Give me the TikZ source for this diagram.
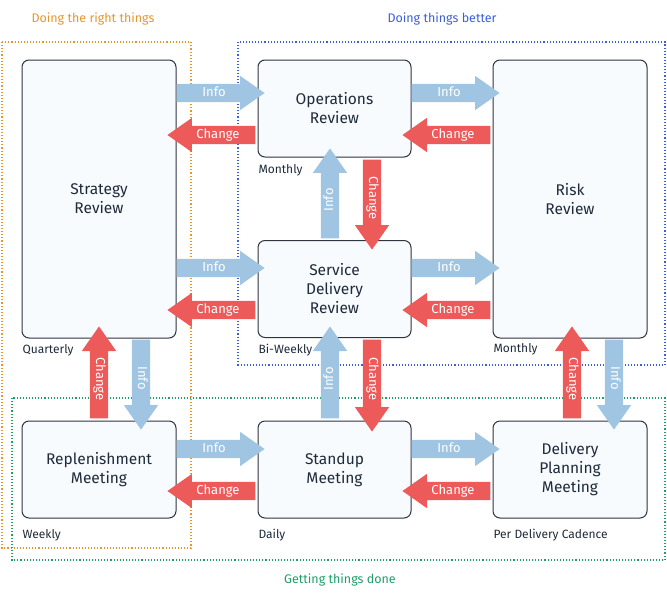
\documentclass[tikz,border=0pt]{standalone}
\usepackage{fontspec}
\setmainfont{Fira Sans}
\usetikzlibrary{shapes.arrows}
\definecolor{infoc}{HTML}{9FC5E2}
\definecolor{chc}{HTML}{EC5A5A}
\definecolor{boxb}{HTML}{2E3440}
\definecolor{boxf}{HTML}{F7FBFE}
\definecolor{orc}{HTML}{E8962A}
\definecolor{blc}{HTML}{3A5FD9}
\definecolor{grc}{HTML}{1E9E6A}
\definecolor{txt}{HTML}{1F2A3A}
\tikzset{
 box/.style={draw=boxb,line width=1pt,fill=boxf,rounded corners=7pt,align=center,font=\fontsize{15.5}{19}\selectfont,text=txt},
 sub/.style={anchor=west,font=\fontsize{12}{14}\selectfont,text=txt},
 region/.style={dotted,line width=1.1pt},
 fat/.style={single arrow,single arrow head extend=8pt,single arrow head indent=0pt,single arrow tip angle=70,inner sep=0pt,text height=12pt,text depth=6pt,inner xsep=2pt,minimum height=#1,text=white,font=\fontsize{13}{15}\selectfont},
 inf/.style={fat=#1,fill=infoc},
 chg/.style={fat=#1,fill=chc},
}
\begin{document}
\begin{tikzpicture}[x=1pt,y=-1pt]
\useasboundingbox (0,0) rectangle (667,600);
\draw[region,orc] (2,42) rectangle (191,548);
\draw[region,blc] (238,42) rectangle (665,365);
\draw[region,grc] (12,398) rectangle (665,560);
\node[text=orc,font=\fontsize{12.5}{14}\selectfont] (l1) at (93,19) {Doing the right things};
\node[text=blc,font=\fontsize{12.5}{14}\selectfont] (l2) at (442,19) {Doing things better};
\node[text=grc,font=\fontsize{12.5}{14}\selectfont] (l3) at (340,580) {Getting things done};

\node[box,minimum width=154,minimum height=278] (sr) at (99,199) {Strategy\\Review};
\node[box,minimum width=153,minimum height=97] (or) at (334.5,108.5) {Operations\\Review};
\node[box,minimum width=154,minimum height=278] (rr) at (570,199) {Risk\\Review};
\node[box,minimum width=153,minimum height=97] (sd) at (334.5,289) {Service\\Delivery\\Review};
\node[box,minimum width=154,minimum height=97] (rm) at (99,469.5) {Replenishment\\Meeting};
\node[box,minimum width=153,minimum height=97] (sm) at (334.5,469.5) {Standup\\Meeting};
\node[box,minimum width=154,minimum height=97] (dp) at (570,469.5) {Delivery\\Planning\\Meeting};

\node[sub] (q) at (19,350) {Quarterly};
\node[sub] (m1) at (255,170) {Monthly};
\node[sub] (m2) at (490,349) {Monthly};
\node[sub] (bw) at (255,350) {Bi-Weekly};
\node[sub] (wk) at (19,535) {Weekly};
\node[sub] (dy) at (255,535) {Daily};
\node[sub] (pd) at (490,535) {Per Delivery Cadence};

% horizontal
\foreach \y/\n in {93/a,268/b,449/c}{
 \node[inf=88pt] (hi1\n) at (214,\y) {Info};
 \node[inf=88pt] (hi2\n) at (449,\y) {Info};
}
\foreach \y/\n in {135/a,310/b,491/c}{
 \node[chg=88pt,shape border rotate=180] (hc1\n) at (218,\y) {Change};
 \node[chg=88pt,shape border rotate=180] (hc2\n) at (453,\y) {Change};
}
% vertical
\node[inf=90pt,rotate=90] (v1) at (330,200) {Info};
\node[chg=90pt,rotate=-90] (v2) at (372,198) {Change};
\node[inf=92pt,rotate=90] (v3) at (330,379) {Info};
\node[chg=92pt,rotate=-90] (v4) at (372,379) {Change};
\node[chg=92pt,rotate=-90,shape border rotate=180] (v5) at (99,379) {Change};
\node[inf=90pt,rotate=-90] (v6) at (141,378) {Info};
\node[chg=92pt,rotate=-90,shape border rotate=180] (v7) at (572,379) {Change};
\node[inf=90pt,rotate=-90] (v8) at (614,378) {Info};
\end{tikzpicture}
\end{document}
